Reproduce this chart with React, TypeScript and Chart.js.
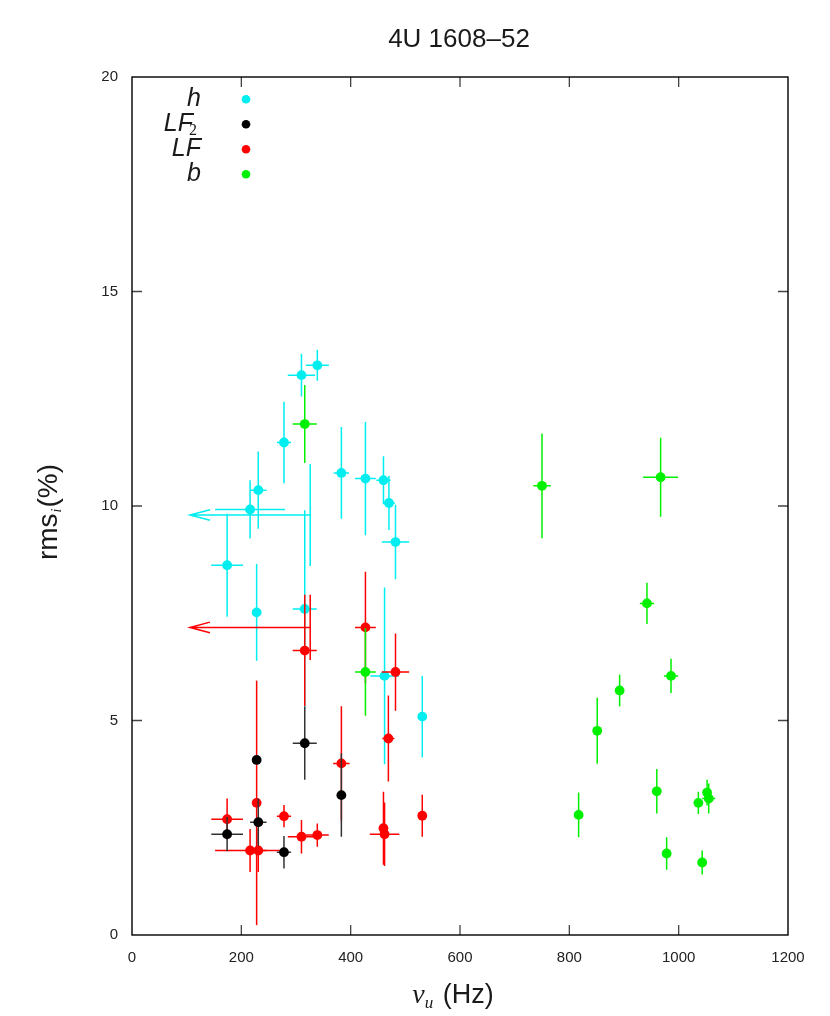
import React, { useEffect, useRef } from 'react';
import { Chart, registerables } from 'chart.js';

Chart.register(...registerables);

// ---- data ----
const titleText = '4U 1608–52';
const xTickStep = 200;
const yTickStep = 5;

// h (cyan)
const hX = [310, 339, 278, 231, 216, 383, 427, 460, 470, 482, 174, 228, 316, 462, 531];
const hY = [13.05, 13.28, 11.48, 10.37, 9.92, 10.77, 10.64, 10.6, 10.07, 9.16, 8.62, 7.52, 7.6, 6.04, 5.09];
const hXErr = [25, 21, 13, 15, 64, 14, 19, 13, 11, 25, 29, 0, 22, 26, 0];
const hYErr = [0.5, 0.36, 0.95, 0.9, 0.68, 1.07, 1.32, 0.56, 0.63, 0.87, 1.2, 1.13, 2.3, 2.06, 0.95];
// h upper limits on frequency (arrow to the left)
const hLimX = [326];
const hLimY = [9.79];
const hLimYErr = [1.19];

// LF (red)
const lfX = [427, 316, 482, 469, 383, 228, 174, 278, 216, 231, 310, 339, 460, 462, 531];
const lfY = [7.17, 6.63, 6.13, 4.58, 4.0, 3.08, 2.7, 2.77, 1.97, 1.97, 2.29, 2.33, 2.49, 2.35, 2.78];
const lfXErr = [19, 22, 25, 11, 15, 0, 29, 13, 64, 15, 25, 21, 5, 27, 0];
const lfYErr = [1.3, 1.3, 0.9, 1.0, 1.33, 2.85, 0.48, 0.26, 0.5, 0.5, 0.39, 0.27, 0.85, 0.74, 0.49];
const lfLimX = [326];
const lfLimY = [7.17];
const lfLimYErr = [0.76];

// LF2 (black)
const lf2X = [316, 228, 231, 174, 278, 383];
const lf2Y = [4.47, 4.08, 2.63, 2.35, 1.93, 3.26];
const lf2XErr = [22, 0, 15, 29, 13, 8];
const lf2YErr = [0.85, 0, 0.55, 0.4, 0.38, 0.97];

// b (green)
const bX = [316, 427, 750, 967, 942, 986, 892, 851, 817, 960, 1036, 1052, 1055, 978, 1043];
const bY = [11.91, 6.13, 10.47, 10.67, 7.73, 6.04, 5.7, 4.76, 2.8, 3.35, 3.08, 3.32, 3.18, 1.9, 1.69];
const bXErr = [22, 19, 16, 32, 13, 13, 0, 0, 0, 0, 6, 0, 12, 0, 0];
const bYErr = [0.91, 1.02, 1.22, 0.92, 0.48, 0.4, 0.37, 0.77, 0.52, 0.52, 0.26, 0.3, 0.35, 0.38, 0.28];

const limitArrowEnd = 106; // Hz, left end of upper-limit arrows

const legendLabels = ['h', 'LF', 'LF', 'b'];
const legendSubs = ['', '2', '', ''];

const CYAN = '#00eef0';
const RED = '#ff0000';
const BLACK = '#000000';
const GREEN = '#00f000';
const legendColors = [CYAN, BLACK, RED, GREEN];

const pts = (xs: number[], ys: number[]) => xs.map((x, i) => ({ x, y: ys[i] }));

const errorBarPlugin = {
  id: 'errbars',
  beforeDatasetDraw(chart: any, args: any) {
    const ds = chart.data.datasets[args.index];
    const xs = chart.scales.x;
    const ys = chart.scales.y;
    const ctx = chart.ctx;
    ctx.save();
    ctx.strokeStyle = ds.errColor;
    ctx.lineWidth = 1.5;
    ctx.lineCap = 'butt';
    ds.data.forEach((p: any, i: number) => {
      const ex = ds.xErr ? ds.xErr[i] : 0;
      const ey = ds.yErr ? ds.yErr[i] : 0;
      const px = xs.getPixelForValue(p.x);
      const py = ys.getPixelForValue(p.y);
      ctx.beginPath();
      if (ey > 0) {
        ctx.moveTo(px, ys.getPixelForValue(p.y - ey));
        ctx.lineTo(px, ys.getPixelForValue(p.y + ey));
      }
      if (ex > 0) {
        ctx.moveTo(xs.getPixelForValue(p.x - ex), py);
        ctx.lineTo(xs.getPixelForValue(p.x + ex), py);
      }
      ctx.stroke();
    });
    if (ds.limX) {
      ds.limX.forEach((lx: number, i: number) => {
        const ly = ds.limY[i];
        const ley = ds.limYErr[i];
        const px = xs.getPixelForValue(lx);
        const py = ys.getPixelForValue(ly);
        const ax = xs.getPixelForValue(limitArrowEnd);
        ctx.beginPath();
        ctx.moveTo(px, ys.getPixelForValue(ly - ley));
        ctx.lineTo(px, ys.getPixelForValue(ly + ley));
        ctx.moveTo(px, py);
        ctx.lineTo(ax, py);
        ctx.moveTo(ax + 20, py - 5.3);
        ctx.lineTo(ax, py);
        ctx.lineTo(ax + 20, py + 5.3);
        ctx.stroke();
      });
    }
    ctx.restore();
  },
};

const decorPlugin = {
  id: 'decor',
  afterDraw(chart: any) {
    const ctx = chart.ctx;
    const { left, right, top, bottom } = chart.chartArea;
    const xs = chart.scales.x;
    const ys = chart.scales.y;
    ctx.save();
    // ticks (inward, mirrored)
    ctx.strokeStyle = '#444';
    ctx.lineWidth = 1.3;
    ctx.beginPath();
    xs.ticks.forEach((t: any) => {
      const px = xs.getPixelForValue(t.value);
      if (px <= left + 1 || px >= right - 1) return;
      ctx.moveTo(px, bottom);
      ctx.lineTo(px, bottom - 10);
      ctx.moveTo(px, top);
      ctx.lineTo(px, top + 10);
    });
    ys.ticks.forEach((t: any) => {
      const py = ys.getPixelForValue(t.value);
      if (py <= top + 1 || py >= bottom - 1) return;
      ctx.moveTo(left, py);
      ctx.lineTo(left + 10, py);
      ctx.moveTo(right, py);
      ctx.lineTo(right - 10, py);
    });
    ctx.stroke();
    // frame
    ctx.strokeStyle = '#000';
    ctx.lineWidth = 1.4;
    ctx.strokeRect(left, top, right - left, bottom - top);

    ctx.fillStyle = '#1a1a1a';
    // title
    ctx.font = '26px "Liberation Sans", Arial, sans-serif';
    ctx.textAlign = 'center';
    ctx.textBaseline = 'alphabetic';
    ctx.fillText(titleText, 459, 46.5);

    const drawParts = (parts: any[], cx: number, baseY: number) => {
      let total = 0;
      parts.forEach((p) => {
        ctx.font = p.font;
        p.w = ctx.measureText(p.text).width;
        total += p.w + (p.gap || 0);
      });
      let x = cx - total / 2;
      ctx.textAlign = 'left';
      parts.forEach((p) => {
        ctx.font = p.font;
        ctx.fillText(p.text, x, baseY + (p.dy || 0));
        x += p.w + (p.gap || 0);
      });
    };
    // x axis title: ν_u (Hz)
    drawParts(
      [
        { text: 'ν', font: 'italic 28px "Liberation Serif", serif' },
        { text: 'u', font: 'italic 17px "Liberation Serif", serif', dy: 5, gap: 2 },
        { text: ' (Hz)', font: '27px "Liberation Sans", Arial, sans-serif' },
      ],
      453,
      1003
    );

    // y axis title: rms_i(%)
    ctx.save();
    ctx.translate(57, 512);
    ctx.rotate(-Math.PI / 2);
    drawParts(
      [
        { text: 'rms', font: '28px "Liberation Sans", Arial, sans-serif', gap: 1 },
        { text: 'i', font: 'italic 14px "Liberation Serif", serif', dy: 4, gap: 1 },
        { text: '(%)', font: '28px "Liberation Sans", Arial, sans-serif' },
      ],
      0,
      0
    );
    ctx.restore();

    // legend
    const rowY = [99.3, 124.3, 149.3, 174.3];
    legendLabels.forEach((lab, i) => {
      const y = rowY[i];
      ctx.fillStyle = '#1a1a1a';
      ctx.textAlign = 'right';
      if (legendSubs[i]) {
        ctx.font = 'italic 25px "Liberation Sans", Arial, sans-serif';
        ctx.fillText(lab, 193, y + 7);
        ctx.textAlign = 'left';
        ctx.font = '16px "Liberation Serif", serif';
        ctx.fillText(legendSubs[i], 189, y + 11);
      } else {
        ctx.font = 'italic 25px "Liberation Sans", Arial, sans-serif';
        ctx.fillText(lab, 201, y + 7);
      }
      ctx.fillStyle = legendColors[i];
      ctx.beginPath();
      ctx.arc(246, y, 4.3, 0, Math.PI * 2);
      ctx.fill();
    });
    ctx.restore();
  },
};

export default function App() {
  const canvasRef = useRef<HTMLCanvasElement | null>(null);

  useEffect(() => {
    const canvas = canvasRef.current;
    if (!canvas) return;
    const mk = (label: string, color: string, errColor: string, xs: number[], ys: number[], xe: number[], ye: number[], order: number, lim?: any) => ({
      label,
      data: pts(xs, ys),
      xErr: xe,
      yErr: ye,
      errColor,
      ...(lim || {}),
      order,
      showLine: false,
      pointRadius: 4.9,
      pointHoverRadius: 4.9,
      pointBorderWidth: 0,
      pointBackgroundColor: color,
      pointBorderColor: color,
      backgroundColor: color,
      borderColor: color,
    });
    const chart = new Chart(canvas, {
      type: 'scatter',
      data: {
        datasets: [
          mk('h', CYAN, CYAN, hX, hY, hXErr, hYErr, 3, { limX: hLimX, limY: hLimY, limYErr: hLimYErr }),
          mk('LF', RED, RED, lfX, lfY, lfXErr, lfYErr, 2, { limX: lfLimX, limY: lfLimY, limYErr: lfLimYErr }),
          mk('LF2', BLACK, '#333333', lf2X, lf2Y, lf2XErr, lf2YErr, 1),
          mk('b', GREEN, GREEN, bX, bY, bXErr, bYErr, 0),
        ] as any,
      },
      options: {
        responsive: false,
        animation: false,
        devicePixelRatio: 1,
        layout: { padding: { left: 0, right: 42, top: 77, bottom: 0 } },
        plugins: {
          legend: { display: false },
          title: { display: false },
          tooltip: { enabled: false },
        },
        scales: {
          x: {
            type: 'linear',
            min: 0,
            max: 1200,
            grid: { display: false, drawTicks: false },
            border: { display: false },
            ticks: {
              stepSize: xTickStep,
              padding: 14,
              color: '#222',
              font: { family: '"Liberation Sans", Arial, sans-serif', size: 15 },
              maxRotation: 0,
              callback: (v: any) => String(v),
            },
            afterFit: (s: any) => {
              s.height = 81;
            },
          },
          y: {
            type: 'linear',
            min: 0,
            max: 20,
            grid: { display: false, drawTicks: false },
            border: { display: false },
            ticks: {
              stepSize: yTickStep,
              padding: 14,
              color: '#222',
              font: { family: '"Liberation Sans", Arial, sans-serif', size: 15 },
              callback: (v: any) => String(v),
            },
            afterFit: (s: any) => {
              s.width = 132;
            },
          },
        },
      } as any,
      plugins: [errorBarPlugin, decorPlugin],
    });
    return () => chart.destroy();
  }, []);

  return (
    <div style={{ position: 'absolute', left: 0, top: 0, width: 830, height: 1016, background: '#fff' }}>
      <canvas ref={canvasRef} width={830} height={1016} />
    </div>
  );
}
